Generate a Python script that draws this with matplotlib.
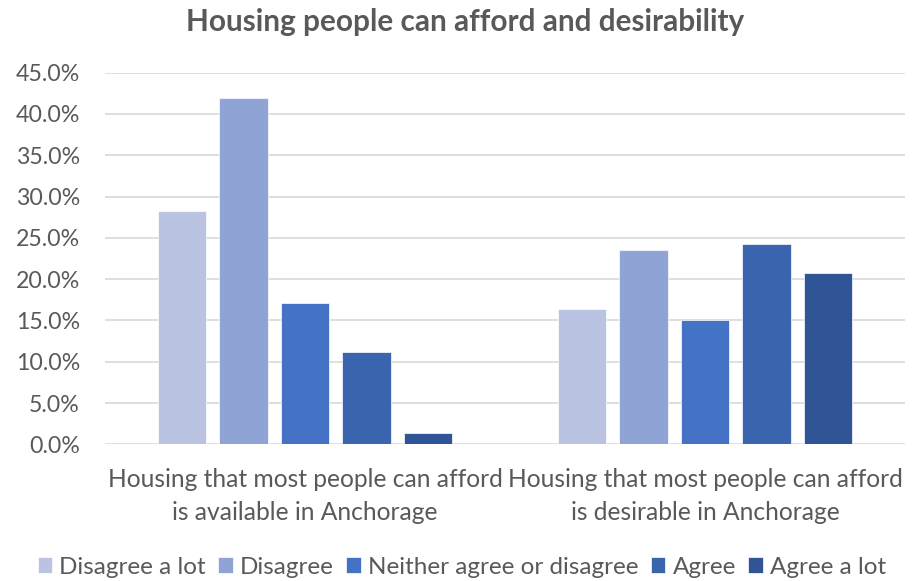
import matplotlib
matplotlib.use('Agg')
import matplotlib.pyplot as plt
from matplotlib.ticker import PercentFormatter, MultipleLocator
import numpy as np

# dados
categorias = ["Housing that most people can afford\nis available in Anchorage",
              "Housing that most people can afford\nis desirable in Anchorage"]
respostas = ["Disagree a lot", "Disagree", "Neither agree or disagree", "Agree", "Agree a lot"]
disagree_lot = [28.3, 16.4]
disagree = [41.9, 23.5]
neither = [17.1, 15.0]
agree = [11.2, 24.2]
agree_lot = [1.4, 20.8]
cores = ["#BAC4E2", "#8FA3D4", "#4472C4", "#3A64AD", "#2F5597"]

series = [disagree_lot, disagree, neither, agree, agree_lot]

plt.rcParams['font.family'] = ['Lato', 'DejaVu Sans']
texto = "#595959"

fig = plt.figure(figsize=(9.2, 5.81), dpi=100)
ax = fig.add_axes([105/920, 136.7/581, 800/920, 371.6/581])

x = np.arange(len(categorias))
passo = 0.154
largura = 0.121
for i, (vals, nome, cor) in enumerate(zip(series, respostas, cores)):
    ax.bar(x + (i - 2) * passo, vals, width=largura, color=cor, label=nome,
           edgecolor="white", linewidth=0.5, zorder=3)

ax.set_xlim(-0.5, 1.5)
ax.set_ylim(0, 45)
ax.yaxis.set_major_locator(MultipleLocator(5))
ax.yaxis.set_major_formatter(PercentFormatter(decimals=1))
ax.grid(axis='y', color="#D9D9D9", linewidth=1.2, zorder=0)
for s in ax.spines.values():
    s.set_visible(False)
ax.tick_params(axis='both', length=0, colors=texto)
ax.tick_params(axis='y', pad=18, labelsize=16.7)
ax.tick_params(axis='x', pad=17, labelsize=17.7)
ax.set_xticks(x)
ax.set_xticklabels(categorias, linespacing=1.55)

fig.text(0.506, 1 - 22/581, "Housing people can afford and desirability",
         ha='center', va='center', fontsize=21.4, fontweight='bold', color=texto)

leg = fig.legend(loc='center', bbox_to_anchor=(0.502, 1 - 567/581), ncol=5, frameon=False,
                 fontsize=17.5, handlelength=0.6, handleheight=0.6, handletextpad=0.3,
                 columnspacing=0.5, labelcolor=texto)

fig.savefig("out.png", dpi=100)
